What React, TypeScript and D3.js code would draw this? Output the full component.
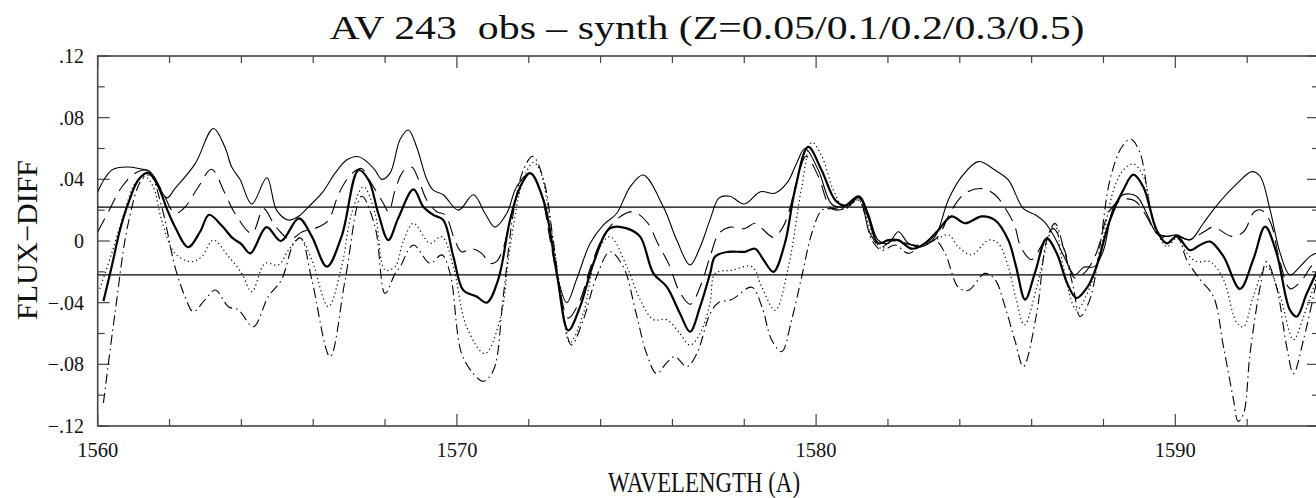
import React from "react";
import * as d3 from "d3";

// ---- data (wavelength in A, flux difference) ----
const thinSolid: [number, number][] = [
  [1560.0, 0.032], [1560.39, 0.046], [1560.85, 0.048], [1561.13, 0.047], [1561.46, 0.045],
  [1561.92, 0.028], [1562.15, 0.034], [1562.71, 0.05], [1563.22, 0.073], [1563.54, 0.061],
  [1563.73, 0.048], [1563.96, 0.04], [1564.29, 0.024], [1564.71, 0.041], [1564.98, 0.02],
  [1565.31, 0.0136], [1565.59, 0.016], [1565.86, 0.022], [1566.24, 0.031], [1566.61, 0.044],
  [1566.93, 0.0525], [1567.26, 0.0547], [1567.49, 0.0515], [1567.72, 0.046], [1567.91, 0.04],
  [1568.14, 0.044], [1568.42, 0.066], [1568.65, 0.072], [1568.88, 0.061], [1569.16, 0.04],
  [1569.34, 0.033], [1569.62, 0.03], [1570.04, 0.02], [1570.46, 0.03], [1570.78, 0.018],
  [1571.06, 0.009], [1571.39, 0.018], [1571.66, 0.035], [1572.04, 0.044], [1572.31, 0.033],
  [1572.59, 0.007], [1572.82, -0.025], [1573.06, -0.04], [1573.33, -0.025], [1573.71, -0.0015],
  [1574.08, 0.0104], [1574.45, 0.018], [1574.82, 0.035], [1575.19, 0.0428], [1575.75, 0.022],
  [1576.12, 0.0006], [1576.49, -0.0156], [1576.77, -0.004], [1577.05, 0.014], [1577.3, 0.028],
  [1577.6, 0.029], [1578.0, 0.024], [1578.45, 0.032], [1578.85, 0.031], [1579.2, 0.038],
  [1579.45, 0.05], [1579.69, 0.06], [1580.06, 0.046], [1580.43, 0.024], [1580.71, 0.022],
  [1580.99, 0.0245], [1581.22, 0.029], [1581.45, 0.018], [1581.73, 0.0006], [1582.01, -0.0015],
  [1582.29, 0.006], [1582.57, -0.0015], [1582.94, -0.0037], [1583.31, 0.0028], [1583.68, 0.0266],
  [1584.05, 0.0417], [1584.52, 0.0515], [1584.98, 0.046], [1585.35, 0.0396], [1585.77, 0.021],
  [1586.1, 0.017], [1586.35, 0.0125], [1586.6, 0.004], [1586.9, -0.01], [1587.2, -0.022],
  [1587.45, -0.017], [1587.75, -0.0166], [1588.0, -0.006], [1588.28, 0.022], [1588.55, 0.03],
  [1588.92, 0.029], [1589.2, 0.018], [1589.48, 0.005], [1589.76, 0.003], [1590.04, 0.004],
  [1590.41, 0.0006], [1590.78, 0.0115], [1591.15, 0.023], [1591.71, 0.037], [1592.13, 0.045],
  [1592.36, 0.042], [1592.64, 0.02], [1592.92, -0.008], [1593.19, -0.022], [1593.47, -0.0166],
  [1593.75, -0.01], [1594.0, -0.007],
];

const longDash: [number, number][] = [
  [1560.0, 0.006], [1560.3, 0.019], [1560.67, 0.035], [1561.04, 0.044], [1561.41, 0.0456],
  [1561.78, 0.033], [1562.15, 0.018], [1562.43, 0.022], [1562.8, 0.035], [1563.17, 0.0465],
  [1563.54, 0.031], [1563.82, 0.018], [1564.29, 0.005], [1564.62, 0.021], [1564.88, 0.012],
  [1565.08, 0.006], [1565.35, 0.001], [1565.7, 0.006], [1566.14, 0.009], [1566.41, 0.013],
  [1566.7, 0.03], [1566.94, 0.04], [1567.2, 0.046], [1567.35, 0.047], [1567.6, 0.038],
  [1567.94, 0.025], [1568.1, 0.019], [1568.28, 0.033], [1568.5, 0.045], [1568.74, 0.048],
  [1568.93, 0.04], [1569.16, 0.0266], [1569.44, 0.019], [1569.67, 0.0169], [1569.95, 0.0],
  [1570.13, -0.007], [1570.41, -0.005], [1570.69, -0.008], [1570.92, -0.0145], [1571.1, -0.0134],
  [1571.3, -0.004], [1571.48, 0.0136], [1571.8, 0.037], [1572.04, 0.044], [1572.35, 0.03],
  [1572.6, 0.0], [1572.85, -0.03], [1573.1, -0.05], [1573.4, -0.04], [1573.75, -0.015],
  [1574.1, 0.004], [1574.5, 0.015], [1574.9, 0.019], [1575.3, 0.012], [1575.6, -0.002],
  [1575.9, -0.015], [1576.2, -0.033], [1576.5, -0.041], [1576.8, -0.028], [1577.05, -0.01],
  [1577.3, 0.005], [1577.6, 0.009], [1578.0, 0.008], [1578.3, 0.0115], [1578.5, 0.008],
  [1578.81, 0.0024], [1579.05, 0.008], [1579.23, 0.018], [1579.5, 0.042], [1579.72, 0.055],
  [1580.06, 0.042], [1580.43, 0.021], [1580.8, 0.021], [1581.18, 0.028], [1581.5, 0.005],
  [1581.8, -0.004], [1582.1, 0.0], [1582.4, -0.001], [1582.8, -0.003], [1583.1, -0.002],
  [1583.4, 0.003], [1583.77, 0.02], [1584.15, 0.031], [1584.61, 0.034], [1584.98, 0.03],
  [1585.35, 0.018], [1585.54, 0.009], [1585.7, -0.004], [1586.0, -0.012], [1586.3, -0.002],
  [1586.6, 0.008], [1586.9, -0.005], [1587.2, -0.024], [1587.5, -0.02], [1587.8, -0.008],
  [1588.18, 0.02], [1588.55, 0.027], [1588.88, 0.026], [1589.2, 0.016], [1589.48, 0.005],
  [1589.76, 0.003], [1590.04, 0.003], [1590.4, 0.001], [1590.8, 0.006], [1591.06, 0.009],
  [1591.57, 0.003], [1591.9, 0.006], [1592.2, 0.019], [1592.4, 0.02], [1592.65, 0.012],
  [1592.9, -0.012], [1593.2, -0.031], [1593.5, -0.026], [1593.8, -0.016], [1594.0, -0.012],
];

const thickSolid: [number, number][] = [
  [1560.16, -0.039], [1560.39, -0.0166], [1560.62, 0.0071], [1560.85, 0.0244], [1561.13, 0.0396],
  [1561.41, 0.0443], [1561.69, 0.0352], [1561.92, 0.0212], [1562.15, 0.0093], [1562.52, -0.004],
  [1562.85, 0.006], [1563.1, 0.017], [1563.45, 0.01], [1563.75, 0.002], [1564.0, -0.002],
  [1564.25, -0.008], [1564.7, 0.009], [1565.1, 0.0], [1565.6, 0.0147], [1565.96, 0.003],
  [1566.38, -0.0166], [1566.79, 0.003], [1567.26, 0.046], [1567.54, 0.0396], [1567.81, 0.018],
  [1568.09, 0.0006], [1568.37, 0.015], [1568.79, 0.0335], [1569.07, 0.022], [1569.34, 0.0169],
  [1569.62, 0.0136], [1569.9, -0.01], [1570.18, -0.032], [1570.55, -0.036], [1570.83, -0.04],
  [1571.15, -0.025], [1571.48, 0.0136], [1571.76, 0.035], [1572.04, 0.044], [1572.41, 0.0266],
  [1572.78, -0.021], [1573.1, -0.058], [1573.43, -0.0426], [1573.8, -0.0145], [1574.26, 0.0082],
  [1574.73, 0.0082], [1575.1, 0.0028], [1575.47, -0.021], [1575.84, -0.0296], [1576.21, -0.047],
  [1576.49, -0.0588], [1576.77, -0.0426], [1577.05, -0.021], [1577.19, -0.01], [1577.56, -0.007],
  [1578.02, -0.007], [1578.3, -0.005], [1578.53, -0.012], [1578.81, -0.02], [1579.13, -0.0015],
  [1579.41, 0.033], [1579.78, 0.061], [1580.15, 0.046], [1580.53, 0.0266], [1580.8, 0.023],
  [1581.18, 0.029], [1581.45, 0.016], [1581.73, -0.0015], [1582.01, 0.0006], [1582.29, 0.0006],
  [1582.66, -0.005], [1583.03, -0.0015], [1583.4, 0.007], [1583.77, 0.016], [1584.15, 0.0115],
  [1584.61, 0.016], [1584.98, 0.0136], [1585.35, 0.0006], [1585.56, -0.016], [1585.82, -0.038],
  [1586.1, -0.02], [1586.42, 0.0017], [1586.7, -0.008], [1587.0, -0.028], [1587.25, -0.037],
  [1587.55, -0.03], [1587.8, -0.017], [1588.18, 0.0136], [1588.55, 0.033], [1588.83, 0.043],
  [1589.11, 0.035], [1589.48, 0.007], [1589.76, -0.0015], [1590.04, 0.003], [1590.41, -0.006],
  [1590.69, -0.0026], [1590.97, -0.0004], [1591.34, -0.01], [1591.8, -0.031], [1592.17, -0.012],
  [1592.5, 0.0093], [1592.82, -0.008], [1593.19, -0.0447], [1593.38, -0.049], [1593.66, -0.034],
  [1594.0, -0.017],
];

const dotted: [number, number][] = [
  [1560.06, -0.031], [1560.39, -0.008], [1560.76, 0.02], [1561.04, 0.0374], [1561.32, 0.0417],
  [1561.55, 0.035], [1561.78, 0.0136], [1562.15, -0.008], [1562.62, -0.0134], [1562.9, -0.01],
  [1563.22, 0.0006], [1563.64, -0.01], [1564.01, -0.021], [1564.29, -0.0329], [1564.66, -0.0145],
  [1565.03, -0.0156], [1565.31, -0.006], [1565.63, 0.002], [1565.96, -0.0123], [1566.42, -0.0426],
  [1566.79, -0.0166], [1567.07, 0.018], [1567.4, 0.0352], [1567.72, 0.018], [1568.0, -0.0188],
  [1568.28, -0.0166], [1568.51, 0.0], [1568.79, 0.0115], [1569.25, -0.0015], [1569.58, 0.0028],
  [1569.9, -0.0166], [1570.27, -0.0556], [1570.78, -0.073], [1571.2, -0.051], [1571.48, -0.004],
  [1571.85, 0.04], [1572.13, 0.051], [1572.31, 0.046], [1572.59, 0.0136], [1572.87, -0.03],
  [1573.15, -0.066], [1573.52, -0.047], [1573.89, -0.008], [1574.26, 0.0028], [1574.73, -0.0166],
  [1575.1, -0.038], [1575.47, -0.051], [1575.84, -0.051], [1576.21, -0.06], [1576.49, -0.0675],
  [1576.77, -0.06], [1577.05, -0.04], [1577.19, -0.021], [1577.65, -0.019], [1578.21, -0.0166],
  [1578.49, -0.03], [1578.86, -0.045], [1579.23, -0.0166], [1579.6, 0.035], [1579.88, 0.064],
  [1580.16, 0.055], [1580.48, 0.033], [1580.8, 0.021], [1581.18, 0.0266], [1581.55, 0.005],
  [1581.83, -0.005], [1582.1, 0.0006], [1582.48, -0.0015], [1582.85, -0.0026], [1583.31, 0.0006],
  [1583.68, 0.004], [1583.96, -0.0037], [1584.33, -0.009], [1584.8, 0.0006], [1585.07, -0.0015],
  [1585.35, -0.0166], [1585.55, -0.036], [1585.8, -0.0545], [1586.14, -0.03], [1586.51, 0.005],
  [1586.65, 0.0104], [1586.88, -0.0166], [1587.25, -0.0447], [1587.62, -0.03], [1587.9, -0.008],
  [1588.28, 0.033], [1588.55, 0.046], [1588.83, 0.05], [1589.11, 0.042], [1589.39, 0.0136],
  [1589.76, -0.0037], [1590.04, 0.0017], [1590.32, -0.008], [1590.6, -0.0134], [1590.97, -0.0134],
  [1591.34, -0.025], [1591.71, -0.053], [1591.9, -0.0556], [1592.17, -0.036], [1592.54, -0.0166],
  [1592.92, -0.036], [1593.29, -0.064], [1593.57, -0.049], [1594.0, -0.019],
];

const dashDot: [number, number][] = [
  [1560.16, -0.105], [1560.48, -0.047], [1560.85, 0.0115], [1561.22, 0.0396], [1561.46, 0.0428],
  [1561.78, 0.0223], [1562.15, -0.0166], [1562.43, -0.036], [1562.66, -0.0458], [1562.99, -0.038],
  [1563.27, -0.0318], [1563.64, -0.0426], [1563.92, -0.0447], [1564.33, -0.0556], [1564.75, -0.036],
  [1565.12, -0.025], [1565.45, -0.002], [1565.65, 0.002], [1565.96, -0.025], [1566.47, -0.075],
  [1566.89, -0.025], [1567.35, 0.029], [1567.72, 0.0093], [1568.0, -0.034], [1568.28, -0.021],
  [1568.42, -0.0166], [1568.79, -0.0026], [1569.25, -0.0145], [1569.58, -0.009], [1569.81, -0.021],
  [1570.13, -0.073], [1570.46, -0.086], [1570.74, -0.091], [1571.02, -0.0837], [1571.29, -0.036],
  [1571.57, 0.018], [1571.85, 0.046], [1572.11, 0.055], [1572.41, 0.04], [1572.68, 0.0006],
  [1572.96, -0.047], [1573.19, -0.0675], [1573.52, -0.051], [1573.89, -0.023], [1574.26, -0.007],
  [1574.63, -0.0166], [1574.99, -0.047], [1575.28, -0.073], [1575.56, -0.086], [1575.84, -0.079],
  [1576.07, -0.075], [1576.4, -0.0815], [1576.68, -0.073], [1577.05, -0.047], [1577.28, -0.04],
  [1577.65, -0.038], [1578.21, -0.03], [1578.49, -0.0426], [1578.76, -0.064], [1579.04, -0.0718],
  [1579.32, -0.051], [1579.6, -0.023], [1579.88, 0.005], [1580.16, 0.02], [1580.43, 0.021],
  [1580.8, 0.021], [1581.18, 0.0266], [1581.55, 0.0006], [1581.83, -0.006], [1582.2, -0.0026],
  [1582.57, -0.008], [1582.94, -0.0026], [1583.31, 0.0006], [1583.59, -0.008], [1583.96, -0.03],
  [1584.24, -0.032], [1584.7, -0.021], [1584.98, -0.025], [1585.26, -0.0426], [1585.54, -0.065],
  [1585.77, -0.0815], [1586.14, -0.047], [1586.42, 0.0006], [1586.65, 0.0115], [1586.88, -0.0037],
  [1587.16, -0.03], [1587.35, -0.049], [1587.62, -0.038], [1587.9, -0.0037], [1588.18, 0.0396],
  [1588.51, 0.061], [1588.76, 0.066], [1589.02, 0.057], [1589.3, 0.022], [1589.57, 0.003],
  [1590.04, 0.003], [1590.32, -0.0123], [1590.69, -0.025], [1591.06, -0.036], [1591.34, -0.0685],
  [1591.62, -0.103], [1591.75, -0.117], [1591.9, -0.112], [1592.08, -0.073], [1592.36, -0.03],
  [1592.54, -0.0134], [1592.82, -0.03], [1593.1, -0.0685], [1593.29, -0.086], [1593.57, -0.064],
  [1594.0, -0.019],
];

const refLevels = [0.022, -0.022];
const xMajorTicks = [1560, 1570, 1580, 1590];
const xMinorTicks = [1562, 1564, 1566, 1568, 1572, 1574, 1576, 1578, 1582, 1584, 1586, 1588, 1592];
const yMajorTicks = [-0.12, -0.08, -0.04, 0, 0.04, 0.08, 0.12];
const yMinorTicks = [-0.1, -0.06, -0.02, 0.02, 0.06, 0.1];
const yTickLabels = ["\u2212.12", "\u2212.08", "\u2212.04", "0", ".04", ".08", ".12"];

const titleText = "AV 243  obs \u2013 synth (Z=0.05/0.1/0.2/0.3/0.5)";
const xTitle = "WAVELENGTH (A)";
const yTitle = "FLUX\u2212DIFF";

const W = 1316;
const H = 498;
const L = 97.7;
const R = 1319;
const T = 56;
const B = 426;

const FONT = "'Liberation Serif', 'DejaVu Serif', serif";

export default function App() {
  const x = d3.scaleLinear().domain([1560, 1594]).range([L, R]);
  const y = d3.scaleLinear().domain([-0.12, 0.12]).range([B, T]);
  const line = d3
    .line<[number, number]>()
    .x((d) => x(d[0]))
    .y((d) => y(d[1]))
    .curve(d3.curveCatmullRom.alpha(0.5));

  const series = [
    { data: thinSolid, w: 1.1, dash: undefined as string | undefined },
    { data: longDash, w: 1.1, dash: "15,8" },
    { data: dotted, w: 1.2, dash: "1.2,3" },
    { data: dashDot, w: 1.1, dash: "10,4,1.5,4" },
    { data: thickSolid, w: 2.2, dash: undefined as string | undefined },
  ];

  const axisColor = "#444";

  return (
    <svg
      width={W}
      height={H}
      style={{ position: "absolute", left: 0, top: 0, background: "#fff" }}
      fontFamily={FONT}
    >
      <rect x={0} y={0} width={W} height={H} fill="#fff" />
      <defs>
        <clipPath id="plotclip">
          <rect x={L} y={T} width={R - L} height={B - T} />
        </clipPath>
      </defs>

      {/* title */}
      <text
        x={707}
        y={39}
        fontSize={34}
        textAnchor="middle"
        textLength={755}
        lengthAdjust="spacingAndGlyphs"
        style={{ whiteSpace: "pre" }}
        fill="#111"
      >
        {titleText}
      </text>

      {/* frame */}
      <rect x={L} y={T} width={R - L} height={B - T} fill="none" stroke={axisColor} strokeWidth={1.6} />

      {/* x ticks (bottom and top) */}
      {xMajorTicks.map((t) => (
        <g key={"xM" + t}>
          <line x1={x(t)} x2={x(t)} y1={B} y2={B - 12} stroke={axisColor} strokeWidth={1.2} />
          <line x1={x(t)} x2={x(t)} y1={T} y2={T + 12} stroke={axisColor} strokeWidth={1.2} />
          <text
            x={x(t)}
            y={457}
            fontSize={21}
            textAnchor="middle"
            textLength={41}
            lengthAdjust="spacingAndGlyphs"
            fill="#111"
          >
            {String(t)}
          </text>
        </g>
      ))}
      {xMinorTicks.map((t) => (
        <g key={"xm" + t}>
          <line x1={x(t)} x2={x(t)} y1={B} y2={B - 7} stroke={axisColor} strokeWidth={1.2} />
          <line x1={x(t)} x2={x(t)} y1={T} y2={T + 7} stroke={axisColor} strokeWidth={1.2} />
        </g>
      ))}

      {/* y ticks (left and right) */}
      {yMajorTicks.map((t, i) => (
        <g key={"yM" + t}>
          <line x1={L} x2={L + 12} y1={y(t)} y2={y(t)} stroke={axisColor} strokeWidth={1.2} />
          <line x1={R} x2={R - 12} y1={y(t)} y2={y(t)} stroke={axisColor} strokeWidth={1.2} />
          <text x={84} y={y(t) + 7} fontSize={20} textAnchor="end" fill="#111">
            {yTickLabels[i]}
          </text>
        </g>
      ))}
      {yMinorTicks.map((t) => (
        <g key={"ym" + t}>
          <line x1={L} x2={L + 7} y1={y(t)} y2={y(t)} stroke={axisColor} strokeWidth={1.2} />
          <line x1={R} x2={R - 7} y1={y(t)} y2={y(t)} stroke={axisColor} strokeWidth={1.2} />
        </g>
      ))}

      {/* reference lines */}
      {refLevels.map((v) => (
        <line key={"ref" + v} x1={L} x2={R} y1={y(v)} y2={y(v)} stroke="#000" strokeWidth={1.4} />
      ))}

      {/* curves */}
      <g clipPath="url(#plotclip)">
        {series.map((s, i) => (
          <path
            key={i}
            d={line(s.data) || ""}
            fill="none"
            stroke="#000"
            strokeWidth={s.w}
            strokeDasharray={s.dash}
            strokeLinejoin="round"
          />
        ))}
      </g>

      {/* axis titles */}
      <text
        x={704}
        y={492}
        fontSize={29}
        textAnchor="middle"
        textLength={192}
        lengthAdjust="spacingAndGlyphs"
        fill="#111"
      >
        {xTitle}
      </text>
      <text
        transform={`translate(37,240) rotate(-90)`}
        fontSize={29}
        textAnchor="middle"
        textLength={160}
        lengthAdjust="spacingAndGlyphs"
        fill="#111"
      >
        {yTitle}
      </text>
    </svg>
  );
}
